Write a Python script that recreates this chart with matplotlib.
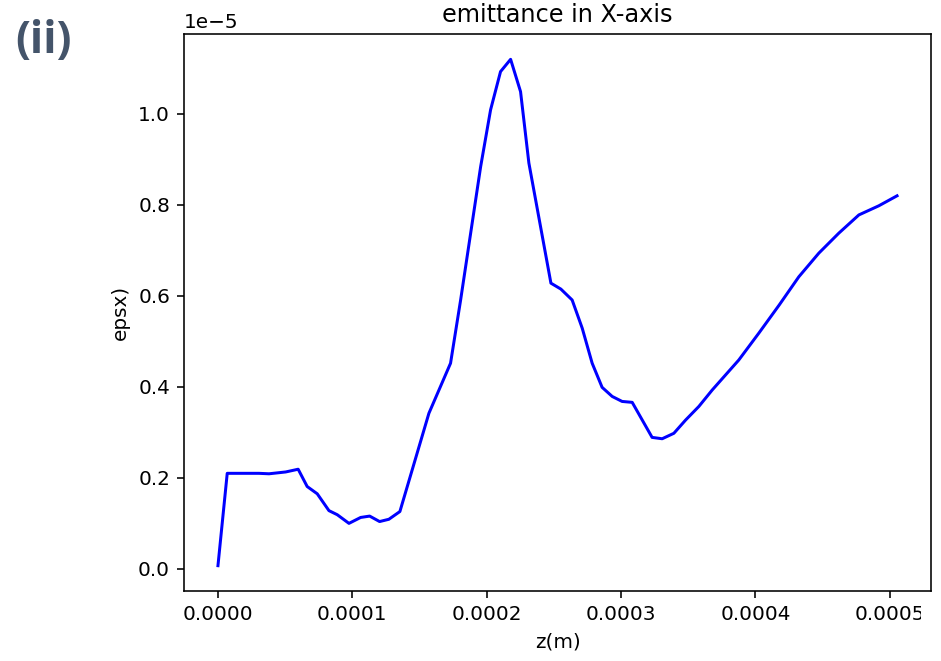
import matplotlib
matplotlib.use("Agg")
import matplotlib.pyplot as plt
from matplotlib.patches import Rectangle

# z in micrometres, emittance in 1e-6
z_um = [0.0, 6.9, 23.0, 30.5, 38.0, 50.4, 59.7, 66.4, 73.9, 82.6,
        88.8, 97.5, 106.2, 112.9, 120.3, 127.2, 135.4, 157.0, 173.1, 180.6,
        195.5, 202.9, 210.3, 217.8, 225.2, 231.4, 247.8, 255.2, 263.6, 271.1,
        278.5, 285.9, 293.4, 300.8, 308.3, 323.1, 330.6, 339.3, 348.0, 357.9,
        367.8, 387.6, 402.5, 417.7, 432.3, 447.2, 462.1, 477.0, 491.8, 505.4]
epsx_e6 = [0.07, 2.10, 2.10, 2.10, 2.09, 2.13, 2.19, 1.81, 1.65, 1.28,
           1.19, 1.00, 1.13, 1.16, 1.04, 1.09, 1.26, 3.42, 4.52, 5.91,
           8.84, 10.09, 10.93, 11.20, 10.49, 8.92, 6.28, 6.15, 5.91, 5.29,
           4.52, 3.99, 3.79, 3.68, 3.66, 2.89, 2.86, 2.98, 3.27, 3.57,
           3.93, 4.59, 5.18, 5.80, 6.42, 6.94, 7.38, 7.78, 7.98, 8.20]

z = [v * 1e-6 for v in z_um]
epsx = [v * 1e-6 for v in epsx_e6]

fig = plt.figure(figsize=(941 / 144, 661 / 144), dpi=144)
ax = fig.add_axes([184 / 941, 70 / 661, 747 / 941, 557 / 661])

ax.plot(z, epsx, color='b')
ax.set_title('emittance in X-axis')
ax.set_xlabel('z(m)')
ax.set_ylabel('epsx)')

# the "0.0005" label is cut off at the right edge in the original
fig.patches.append(Rectangle((921 / 941, 0), 20 / 941, 64 / 661,
                             transform=fig.transFigure, facecolor='white',
                             edgecolor='none', zorder=10))

fig.text(15 / 941, 1 - 42 / 661, '(ii)', fontsize=22, fontweight='bold',
         family='Open Sans', color='#44546a', va='center', ha='left')

fig.savefig('out.png', dpi=144)
